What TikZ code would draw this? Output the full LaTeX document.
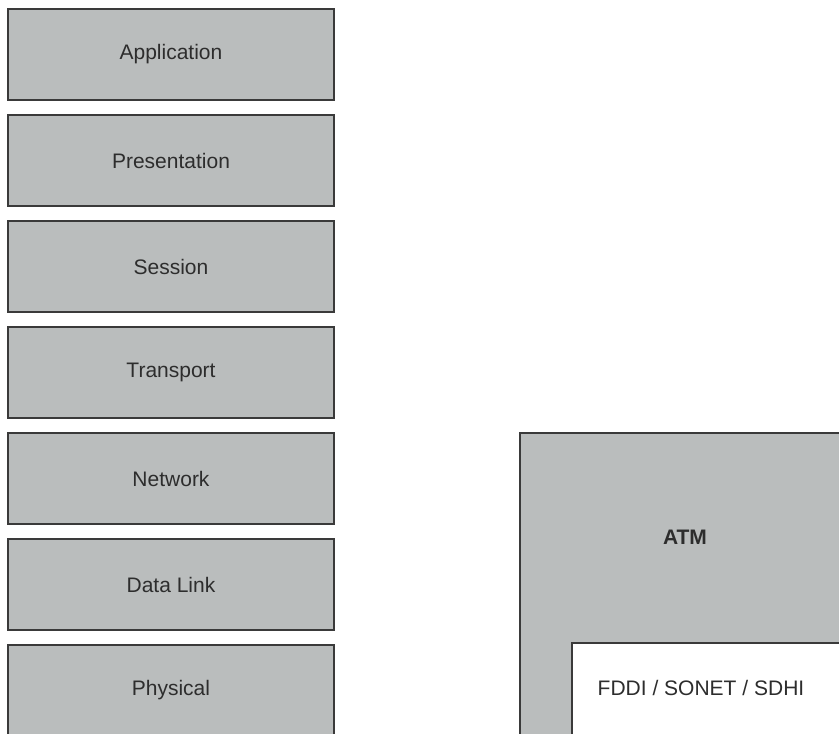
\documentclass[tikz,border=0pt]{standalone}
\usepackage{fontspec}
\setmainfont{Liberation Sans}
\usepackage{xcolor}
\usetikzlibrary{positioning,calc}
\definecolor{layergray}{RGB}{186,189,189}
\definecolor{edgegray}{RGB}{58,58,58}
\definecolor{inkgray}{RGB}{45,45,45}
\tikzset{%
  % classes
  box/.style={draw=edgegray, line width=2pt, align=center, inner sep=4pt,
    text=inkgray, font=\fontsize{21}{25}\selectfont},
  layer/.style={box, fill=layergray, minimum width=326pt, minimum height=91pt},
  stack/.style={box, fill=layergray, minimum width=330pt, minimum height=320pt},
  media/.style={box, fill=white, minimum width=280pt, minimum height=100pt},
  caption/.style={box, draw=none},
}

\begin{document}
\begin{tikzpicture}[x=1pt, y=1pt, node distance=13pt]
  \useasboundingbox (0,0) rectangle (839,-734);

  % OSI stack
  \node[layer, anchor=north west] (app) at (7,-8) {Application};
  \node[layer, below=of app] (pres) {Presentation};
  \node[layer, below=of pres] (sess) {Session};
  \node[layer, below=of sess] (trans) {Transport};
  \node[layer, below=of trans] (net) {Network};
  \node[layer, below=of net] (link) {Data Link};
  \node[layer, below=of link] (phys) {Physical};

  % ATM stack
  \node[stack, anchor=north west] (atm) at (519,-432) {};
  \node[media, anchor=north west] (fddi) at (571,-642) {};
  \node[caption] (fddilabel) at ($(fddi.north west)+(130,-46)$) {FDDI / SONET / SDHI};
  \node[caption, font=\fontsize{21}{25}\selectfont\bfseries]
    (atmlabel) at ($(atm.north)!0.5!(atm.north |- fddi.north)$) {ATM};
\end{tikzpicture}
\end{document}
